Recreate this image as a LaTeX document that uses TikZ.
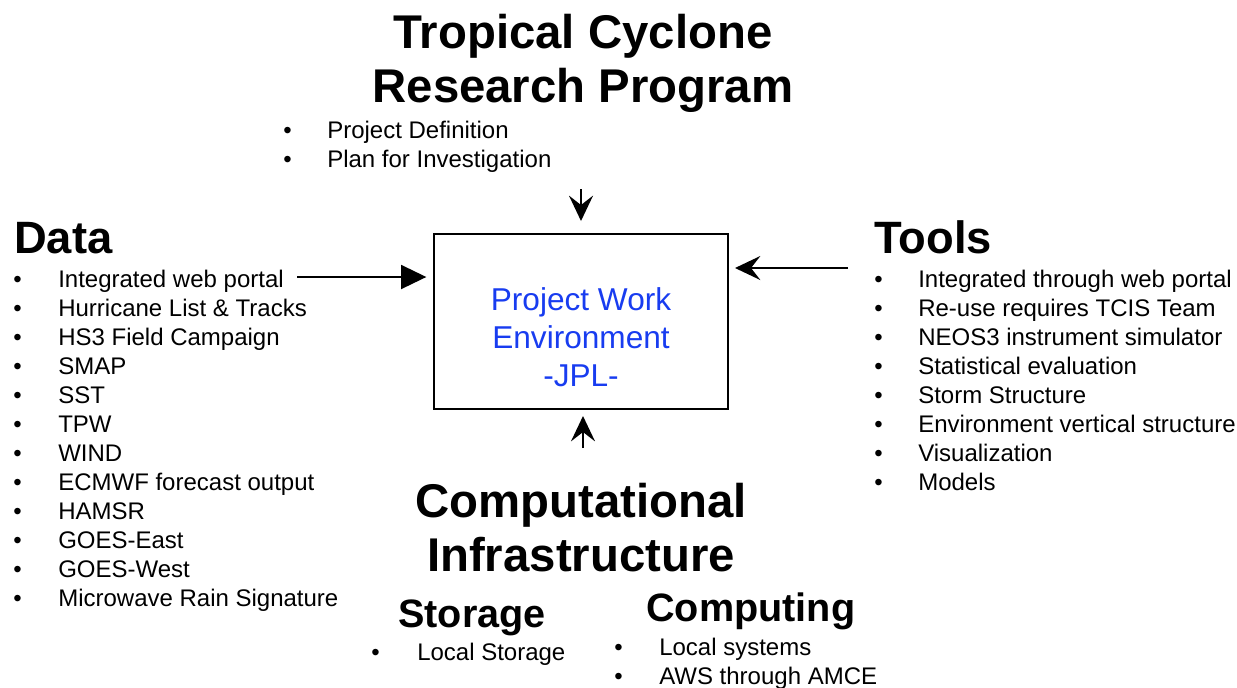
\documentclass[tikz,border=0pt]{standalone}
\usepackage{fontspec}
\setmainfont{Liberation Sans}
\usetikzlibrary{arrows.meta}
\definecolor{pweblue}{RGB}{24,60,240}
\begin{document}
\begin{tikzpicture}[x = 0.75pt,y = -0.75pt,
        every node/.style = {inner sep = 0pt,anchor = base west},
        title/.style = {anchor = base,font = \bfseries\fontsize{35.5}{40}\selectfont},
        head/.style = {font = \bfseries\fontsize{34}{38}\selectfont},
        subhead/.style = {font = \bfseries\fontsize{29.7}{34}\selectfont},
        item/.style = {font = \fontsize{18}{21}\selectfont},
        dot/.style = {font = \fontsize{18}{21}\selectfont},
        pwebox/.style = {draw = black,line width = 1.5pt,anchor = center,
            minimum width = 220.5pt,minimum height = 131.25pt},
        pwetext/.style = {anchor = base,text = pweblue,font = \fontsize{23.7}{28}\selectfont},
        fat/.style = {line width = 1.5pt,-{Triangle[length = 19pt,width = 18pt]}},
        barb/.style = {line width = 1.5pt,-{Stealth[length = 19pt,width = 18pt,inset = 7pt]}}]
    \useasboundingbox (0,0) rectangle (1237,687);

    % program title and its list
    \node [title] (titlea) at (583,48) {Tropical Cyclone};
    \node [title] (titleb) at (583,102) {Research Program};
    \foreach \t [count = \i] in {Project Definition,Plan for Investigation}{
        \node [dot] at (283,109+29*\i) {•};
        \node [item] (p\i) at (327,109+29*\i) {\t};
    }

    % work environment
    \node [pwebox] (pwe) at (581,321.5) {};
    \node [pwetext] (pwea) at (581,310) {Project Work};
    \node [pwetext] (pweb) at (581,348) {Environment};
    \node [pwetext] (pwec) at (581,386) {-JPL-};

    % data
    \node [head] (data) at (14,253) {Data};
    \foreach \t [count = \i] in {Integrated web portal,Hurricane List \& Tracks,HS3 Field Campaign,
            SMAP,SST,TPW,WIND,ECMWF forecast output,HAMSR,GOES-East,GOES-West,
            Microwave Rain Signature}{
        \node [dot] at (13,258+29*\i) {•};
        \node [item] (d\i) at (58,258+29*\i) {\t};
    }

    % tools
    \node [head] (tools) at (874,253) {Tools};
    \foreach \t [count = \i] in {Integrated through web portal,Re-use requires TCIS Team,
            NEOS3 instrument simulator,Statistical evaluation,Storm Structure,
            Environment vertical structure,Visualization,Models}{
        \node [dot] at (874,258+29*\i) {•};
        \node [item] (t\i) at (918,258+29*\i) {\t};
    }

    % computational infrastructure
    \node [title] (infraa) at (581,517) {Computational};
    \node [title] (infrab) at (581,571) {Infrastructure};
    \node [subhead] (storage) at (398,627) {Storage};
    \node [dot] at (371,660) {•};
    \node [item] (s1) at (417,660) {Local Storage};
    \node [subhead] (computing) at (646,621) {Computing};
    \foreach \t [count = \i] in {Local systems,AWS through AMCE}{
        \node [dot] at (614,626+29*\i) {•};
        \node [item] (c\i) at (659,626+29*\i) {\t};
    }

    % arrows into the box
    \coordinate (dataout) at (297,277);
    \coordinate (taskout) at (581,189);
    \coordinate (toolsout) at (848,268);
    \coordinate (infraout) at (583,448);
    \draw [fat,shorten > = 5pt] (dataout) -- (pwe.west |- dataout);
    \draw [barb,shorten > = 9pt] (taskout) -- (pwe.north -| taskout);
    \draw [barb,shorten > = 4.5pt] (toolsout) -- (pwe.east |- toolsout);
    \draw [barb,shorten > = 4.5pt] (infraout) -- (pwe.south -| infraout);
\end{tikzpicture}
\end{document}
